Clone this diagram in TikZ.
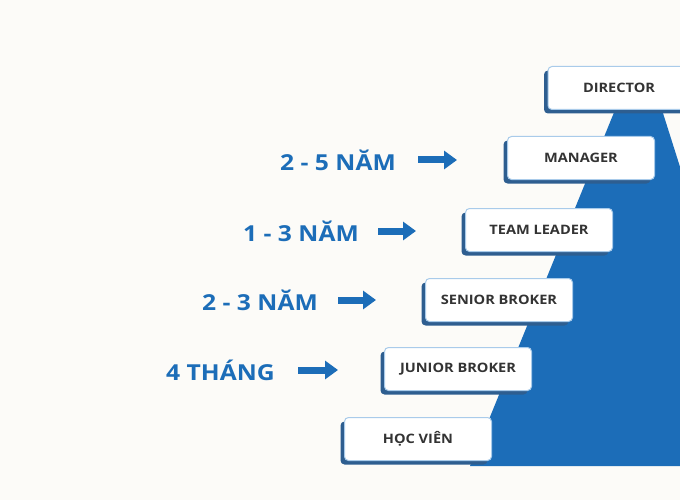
\documentclass[tikz,border=0pt]{standalone}
\usepackage{fontspec}
\setmainfont{Open Sans}
\newfontfamily\widesans[FakeStretch=1.12]{Open Sans}
\usepackage{xcolor}
\usepackage{tikz}
\usetikzlibrary{arrows.meta, shadows}
\definecolor{stepblue}{HTML}{1C6DB8}
\definecolor{shadeblue}{HTML}{2E5E90}
\definecolor{rimblue}{HTML}{A9CBEA}
\definecolor{textgray}{HTML}{333333}
\definecolor{paper}{HTML}{FCFBF8}

\begin{document}
\begin{tikzpicture}[x=1pt, y=-1pt,
    rank/.style={rectangle, rounded corners=4pt, fill=white, draw=rimblue, line width=1pt,
      minimum width=147pt, minimum height=43pt, text=textgray,
      font=\widesans\fontsize{13}{15}\selectfont\bfseries,
      drop shadow={shadow xshift=-4pt, shadow yshift=-4pt, fill=shadeblue, opacity=1}},
    span/.style={anchor=west, text=stepblue, font=\widesans\fontsize{22}{25}\selectfont\bfseries, inner sep=0pt},
    push/.style={draw=stepblue, line width=7pt, -{Triangle[length=13pt, width=18pt]}}]
            \clip (0,0) rectangle (680,500);
            \fill[paper] (0,0) rectangle (680,500);
            \fill[stepblue] (615,110) -- (662,110) -- (700,230) -- (700,466) -- (470,466) -- cycle;
            \node[rank](HV) at (418,439) {HỌC VIÊN};
            \node[rank](JB) at (458,369) {JUNIOR BROKER};
            \node[rank](SB) at (499,300) {SENIOR BROKER};
            \node[rank](TL) at (539,230) {TEAM LEADER};
            \node[rank](MG) at (581,158) {MANAGER};
            \node[rank, minimum width=150pt, text width=140pt, align=left](DR) at (623,88) {\hspace{30pt}DIRECTOR};
            \node[span](T1) at (166,370) {4 THÁNG};
            \node[span](T2) at (202,300) {2 - 3 NĂM};
            \node[span](T3) at (243,231) {1 - 3 NĂM};
            \node[span](T4) at (280,160) {2 - 5 NĂM};
            \coordinate (A1) at (298,370);
            \coordinate (A2) at (338,300);
            \coordinate (A3) at (378,231);
            \coordinate (A4) at (418,160);
            \draw[push, shorten >=46pt] (A1) -- (JB.west |- A1);
            \draw[push, shorten >=49pt] (A2) -- (SB.west |- A2);
            \draw[push, shorten >=49pt] (A3) -- (TL.west |- A3);
            \draw[push, shorten >=50pt] (A4) -- (MG.west |- A4);
        \end{tikzpicture}
\end{document}
